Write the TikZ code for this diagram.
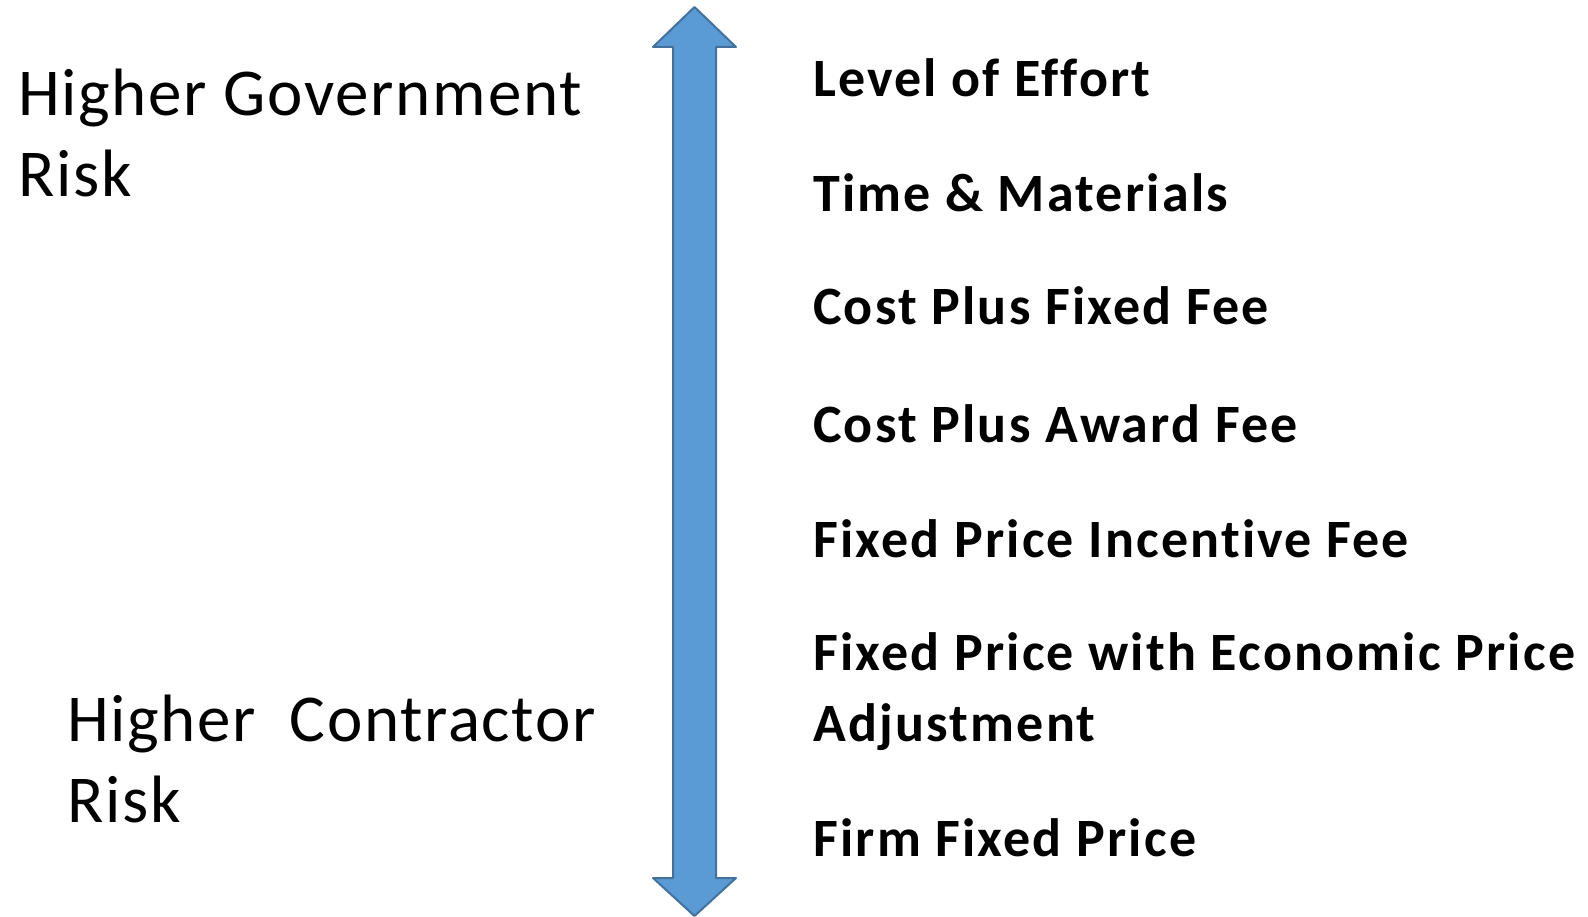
\documentclass[tikz,border=0pt]{standalone}
\usepackage{fontspec}
\setmainfont{Carlito}
\newfontfamily\riskfont{Carlito}[LetterSpace=2.5, Ligatures=NoCommon]
\newfontfamily\typefont{Carlito}[LetterSpace=4.1, Ligatures=NoCommon]
\begin{document}
\begin{tikzpicture}[x=1pt,y=-1pt,
  riskside/.style={anchor=base west, inner sep=0pt, align=left,
    font=\riskfont\fontsize{67}{81}\selectfont},
  contract/.style={anchor=base west, inner sep=0pt, align=left,
    font=\typefont\bfseries\fontsize{54}{71}\selectfont},
  arrowbody/.style={fill={rgb,255:red,91;green,155;blue,213},
    draw={rgb,255:red,65;green,113;blue,156}, line width=2pt, line join=round}]
\useasboundingbox (0,0) rectangle (1588,917);

% double-headed risk arrow
\coordinate (tip top) at (694.5,7);
\coordinate (tip bottom) at (694.5,916);
\filldraw[arrowbody] (tip top) -- (736,47) -- (716,47) -- (716,878) -- (736,878)
  -- (tip bottom) -- (653,878) -- (673,878) -- (673,47) -- (653,47) -- cycle;

% risk labels on the left (a multi-line node sits on its last baseline)
\node[riskside] (gov) at (18,197) {Higher Government\\Risk};
\node[riskside] (con) at (67,822) {Higher\ \ Contractor\\Risk};

% contract types, from highest government risk to highest contractor risk
\node[contract] (loe)  at (813,97)  {Level of Effort};
\node[contract] (tm)   at (813,212) {Time \& Materials};
\node[contract] (cpff) at (813,325) {Cost Plus Fixed Fee};
\node[contract] (cpaf) at (813,442) {Cost Plus Award Fee};
\node[contract] (fpif) at (813,557) {Fixed Price Incentive Fee};
\node[contract] (fpep) at (813,741) {Fixed Price with Economic Price\\Adjustment};
\node[contract] (ffp)  at (813,856) {Firm Fixed Price};
\end{tikzpicture}
\end{document}
